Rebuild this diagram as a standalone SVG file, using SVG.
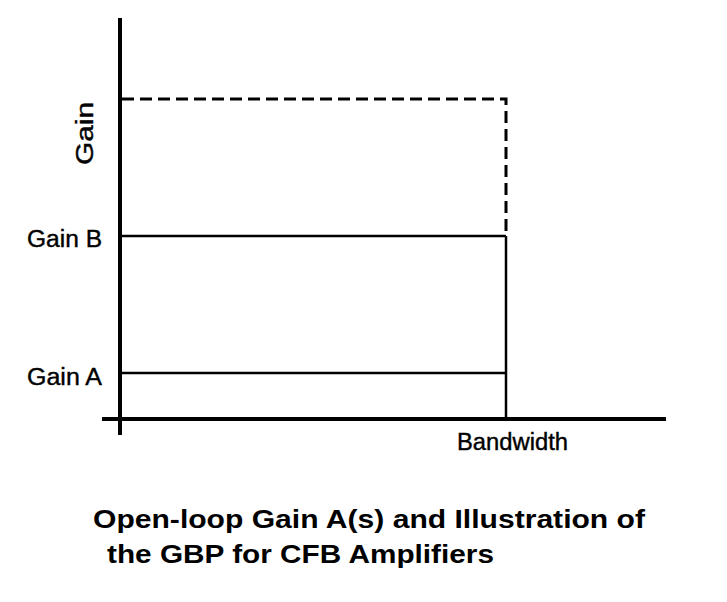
<svg xmlns="http://www.w3.org/2000/svg" width="727" height="602" viewBox="0 0 727 602">
<style>
.axis{stroke:#000;stroke-width:4;fill:none}
.line{stroke:#000;stroke-width:2.5;fill:none}
.dash{stroke:#000;stroke-width:3;fill:none;stroke-dasharray:12 6}
.lbl{font-family:"Liberation Sans",Arial,sans-serif;font-size:23px;fill:#000;stroke:#000;stroke-width:0.4}
.title{font-family:"Liberation Sans",Arial,sans-serif;font-size:26px;font-weight:bold;fill:#000}
.vlbl{font-family:"Liberation Sans",Arial,sans-serif;font-size:23px;fill:#000;stroke:#000;stroke-width:0.4}
</style>
<rect width="727" height="602" fill="#fff"/>
<g id="connectors">
<line class="axis" x1="120" y1="18" x2="120" y2="435"/>
<line class="axis" x1="102" y1="419" x2="666" y2="419"/>
<path class="dash" d="M122 99 H506 V236"/>
<line class="line" x1="122" y1="236" x2="506" y2="236"/>
<line class="line" x1="122" y1="373" x2="506" y2="373"/>
<line class="line" x1="506" y1="236" x2="506" y2="419"/>
</g>
<g id="label-gain"><text class="vlbl" transform="translate(93 133.5) rotate(-90)" text-anchor="middle" textLength="63" lengthAdjust="spacingAndGlyphs">Gain</text></g>
<g id="label-gainB"><text class="lbl" x="102" y="247" text-anchor="end" textLength="75" lengthAdjust="spacingAndGlyphs">Gain B</text></g>
<g id="label-gainA"><text class="lbl" x="102" y="385" text-anchor="end" textLength="75" lengthAdjust="spacingAndGlyphs">Gain A</text></g>
<g id="label-bandwidth"><text class="lbl" x="457" y="450" textLength="111" lengthAdjust="spacingAndGlyphs">Bandwidth</text></g>
<g id="title">
<text class="title" x="93" y="528" textLength="552" lengthAdjust="spacingAndGlyphs">Open-loop Gain A(s) and Illustration of</text>
<text class="title" x="107" y="563" textLength="387" lengthAdjust="spacingAndGlyphs">the GBP for CFB Amplifiers</text>
</g>
</svg>
